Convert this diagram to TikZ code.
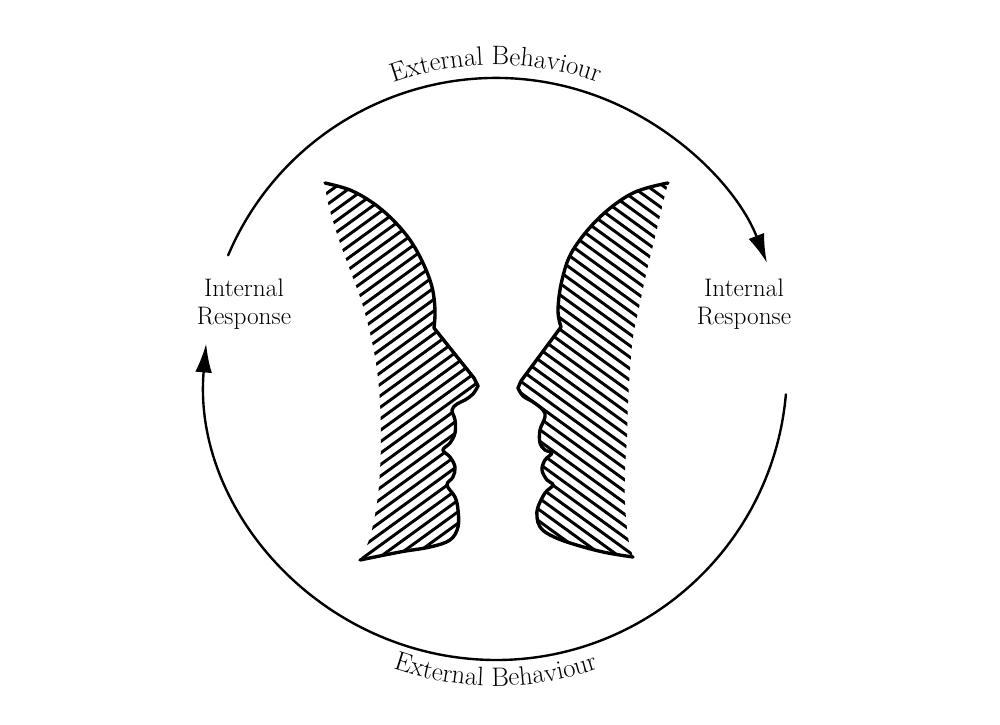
\documentclass[tikz,border=0pt]{standalone}
\usetikzlibrary{arrows.meta,decorations.text}
\begin{document}
\begin{tikzpicture}[x=0.025cm,y=0.025cm,line join=round,line cap=round]
\tikzset{
  ring/.style={line width=1.7pt},
  tipped/.style={-{Latex[length=0.72cm,width=0.42cm]}},
  lbl/.style={font=\fontsize{18}{19.5}\selectfont,align=center,inner sep=0pt},
  outline/.style={line width=2.4pt},
  hatch/.style={line width=2.1pt}
}
\useasboundingbox (0,0) rectangle (1000,724);
\fill[white] (0,0) rectangle (1000,724);
\coordinate (c) at (496,355);
% circle arcs
\coordinate (ua) at ([shift={(157:291)}]c);
\draw[ring,tipped] (ua) arc[start angle=157,end angle=21.4,radius=291];
\coordinate (la) at ([shift={(-5:291)}]c);
\draw[ring,tipped] (la) arc[start angle=-5,end angle=-185,radius=291];
% labels
\node[lbl] (irl) at (244,420) {Internal\\Response};
\node[lbl] (irr) at (744,420) {Internal\\Response};
\coordinate (tt) at ([shift={(125:304)}]c);
\path[decorate,decoration={text along path,text align=center,
  text={|\fontsize{19}{20}\selectfont|External Behaviour}}]
  (tt) arc[start angle=125,end angle=55,radius=304];
\coordinate (bt) at ([shift={(235:317)}]c);
\path[decorate,decoration={text along path,text align=center,
  text={|\fontsize{19}{20}\selectfont|External Behaviour}}]
  (bt) arc[start angle=235,end angle=305,radius=317];
% faces (pixel coordinates, y downward)
\begin{scope}[shift={(0,724)},yscale=-1]
  % left face
  \begin{scope}
    \clip plot[smooth,tension=0.6] coordinates {(325,183)(350,190)(373,203)(393,220)(410,240)(423,263)(432,287)(435,310)(434,328)}
      -- (474,378)
      -- plot[smooth,tension=0.6] coordinates {(478,386)(473,394)(465,400)(457,404)(452,410)(455,420)(455,433)(450,443)(443,450)(450,457)(455,467)(453,477)(447,485)(455,497)(458,510)(458,527)(450,540)(430,547)(400,552)(360,560)}
      -- plot[smooth,tension=0.6] coordinates {(360,560)(370,537)(377,503)(380,470)(381,437)(380,403)(377,370)(371,337)(362,303)(350,270)(338,237)(328,203)(325,183)}
      -- cycle;
    \begin{scope}[rotate around={-36:(400,370)}]
      \foreach \k in {-32,...,32} \draw[hatch] (100,{370+9.3*\k}) -- (700,{370+9.3*\k});
    \end{scope}
  \end{scope}
  \draw[outline] plot[smooth,tension=0.6] coordinates {(325,183)(350,190)(373,203)(393,220)(410,240)(423,263)(432,287)(435,310)(434,328)}
      -- (474,378)
      -- plot[smooth,tension=0.6] coordinates {(478,386)(473,394)(465,400)(457,404)(452,410)(455,420)(455,433)(450,443)(443,450)(450,457)(455,467)(453,477)(447,485)(455,497)(458,510)(458,527)(450,540)(430,547)(400,552)(360,560)};
  % right face
  \begin{scope}
    \clip plot[smooth,tension=0.6] coordinates {(668,183)(633,193)(600,217)(573,250)(562,280)(558,310)(561,327)}
      -- (521,381)
      -- plot[smooth,tension=0.6] coordinates {(518,388)(523,396)(533,402)(543,410)(545,417)(540,430)(540,443)(545,450)(552,453)(545,460)(542,470)(547,480)(553,485)(545,493)(538,507)(537,517)(540,527)(550,535)(570,543)(603,552)(633,557)}
      -- plot[smooth,tension=0.6] coordinates {(633,557)(628,537)(625,503)(625,470)(627,437)(628,403)(630,370)(633,337)(640,303)(647,270)(655,237)(663,203)(668,183)}
      -- cycle;
    \begin{scope}[rotate around={36:(600,370)}]
      \foreach \k in {-32,...,32} \draw[hatch] (300,{370+9.3*\k}) -- (900,{370+9.3*\k});
    \end{scope}
  \end{scope}
  \draw[outline] plot[smooth,tension=0.6] coordinates {(668,183)(633,193)(600,217)(573,250)(562,280)(558,310)(561,327)}
      -- (521,381)
      -- plot[smooth,tension=0.6] coordinates {(518,388)(523,396)(533,402)(543,410)(545,417)(540,430)(540,443)(545,450)(552,453)(545,460)(542,470)(547,480)(553,485)(545,493)(538,507)(537,517)(540,527)(550,535)(570,543)(603,552)(633,557)};
\end{scope}
\end{tikzpicture}
\end{document}
